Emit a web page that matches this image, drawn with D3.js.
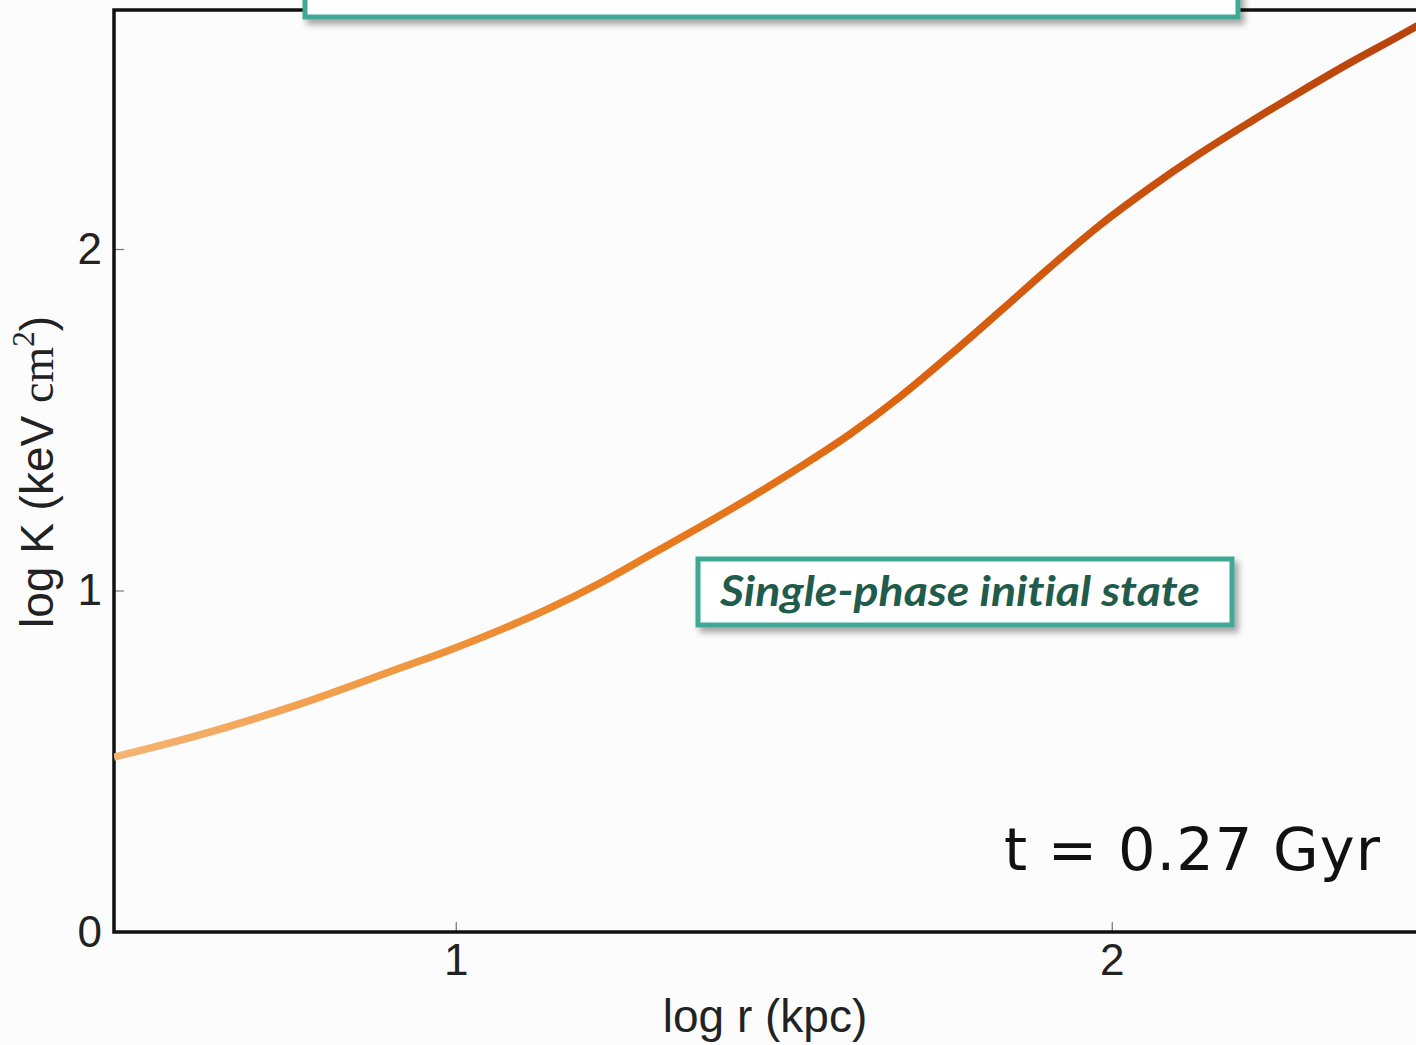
<!DOCTYPE html>
<html>
<head>
<meta charset="utf-8">
<script src="https://cdn.jsdelivr.net/npm/d3@7"></script>
<style>
  html, body { margin: 0; padding: 0; background: #fcfcfc; }
  svg { display: block; }
</style>
</head>
<body>
<svg id="chart" width="1416" height="1045"></svg>
<script>
// ---- data ----
const logR = [0.479, 0.610, 0.763, 0.915, 0.991, 1.067, 1.144, 1.220, 1.296, 1.372, 1.448, 1.525, 1.601, 1.677, 1.753, 1.830, 1.906, 1.982, 2.058, 2.134, 2.211, 2.287, 2.363, 2.440, 2.500];
const logK = [0.512, 0.577, 0.668, 0.773, 0.826, 0.884, 0.949, 1.022, 1.104, 1.186, 1.271, 1.362, 1.458, 1.567, 1.689, 1.818, 1.947, 2.070, 2.179, 2.279, 2.372, 2.460, 2.545, 2.626, 2.691];
const xTicks = [1, 2];
const yTicks = [0, 1, 2];
const xLabel = "log r (kpc)";
const timeLabel = "t = 0.27 Gyr";
const annotation = "Single-phase initial state";

(function () {
const svg = d3.select("#chart");
const W = 1416, H = 1045;
const mLeft = 114, mBottom = 932, mTop = 10;

const x = d3.scaleLinear().domain([0.479, 2.5]).range([mLeft, mLeft + (2.5 - 0.479) * 656]);
const y = d3.scaleLinear().domain([0, 2.7]).range([mBottom, mBottom - 2.7 * 341.5]);

const defs = svg.append("defs");
const grad = defs.append("linearGradient").attr("id", "lineGrad")
  .attr("gradientUnits", "userSpaceOnUse")
  .attr("x1", x(0.479)).attr("x2", x(2.464)).attr("y1", 0).attr("y2", 0);
[[0, "#f5b473"], [0.2, "#f19a45"], [0.4, "#ea7d20"], [0.6, "#dc6410"], [0.8, "#c9500c"], [1, "#b8430b"]]
  .forEach(([o, c]) => grad.append("stop").attr("offset", o).attr("stop-color", c));

const shadow = defs.append("filter").attr("id", "shadow")
  .attr("x", "-10%").attr("y", "-30%").attr("width", "130%").attr("height", "180%");
shadow.append("feDropShadow").attr("dx", 4).attr("dy", 5).attr("stdDeviation", 3)
  .attr("flood-color", "#000").attr("flood-opacity", 0.35);

defs.append("clipPath").attr("id", "plotClip").append("rect")
  .attr("x", mLeft).attr("y", mTop).attr("width", W - mLeft).attr("height", mBottom - mTop);

// ticks (inward, thin)
const gx = svg.append("g").attr("transform", `translate(0,${mBottom})`)
  .call(d3.axisBottom(x).tickValues(xTicks).tickSize(-10).tickPadding(14).tickFormat(d3.format("d")));
gx.select(".domain").remove();
gx.selectAll(".tick line").attr("stroke", "#777").attr("stroke-width", 1.2);
gx.selectAll(".tick text").attr("font-family", "Liberation Sans, Arial, sans-serif")
  .attr("font-size", 44).attr("fill", "#222").attr("dy", "0.71em").attr("y", 12);

const gy = svg.append("g").attr("transform", `translate(${mLeft},0)`)
  .call(d3.axisLeft(y).tickValues(yTicks).tickSize(-10).tickPadding(14).tickFormat(d3.format("d")));
gy.select(".domain").remove();
gy.selectAll(".tick line").attr("stroke", "#777").attr("stroke-width", 1.2);
gy.selectAll(".tick text").attr("font-family", "Liberation Sans, Arial, sans-serif")
  .attr("font-size", 44).attr("fill", "#222").attr("x", -12);

// frame
svg.append("path")
  .attr("d", `M${W + 10},${mTop} H${mLeft} V${mBottom} H${W + 10}`)
  .attr("fill", "none").attr("stroke", "#111").attr("stroke-width", 3.5);

// curve
const line = d3.line().x((d, i) => x(logR[i])).y((d, i) => y(logK[i])).curve(d3.curveMonotoneX);
svg.append("path")
  .datum(logK)
  .attr("clip-path", "url(#plotClip)")
  .attr("d", line)
  .attr("fill", "none")
  .attr("stroke", "url(#lineGrad)")
  .attr("stroke-width", 7.5)
  .attr("stroke-linecap", "butt");

// top (cut off) teal box
svg.append("rect")
  .attr("x", 305).attr("y", -60).attr("width", 933).attr("height", 77)
  .attr("fill", "#ffffff").attr("stroke", "#3fa996").attr("stroke-width", 5)
  .attr("filter", "url(#shadow)");

// annotation box
svg.append("rect")
  .attr("x", 698).attr("y", 559).attr("width", 534).attr("height", 66)
  .attr("fill", "#ffffff").attr("stroke", "#3fa996").attr("stroke-width", 5)
  .attr("filter", "url(#shadow)");
svg.append("text")
  .attr("x", 720).attr("y", 606)
  .attr("font-family", "Lato, 'Open Sans', sans-serif")
  .attr("font-style", "italic").attr("font-weight", 700)
  .attr("font-size", 42).attr("fill", "#1f5c4c")
  .style("font-variant-ligatures", "none")
  .attr("textLength", 480).attr("lengthAdjust", "spacingAndGlyphs")
  .text(annotation);

// time label
svg.append("text")
  .attr("x", 1004).attr("y", 870)
  .attr("font-family", "DejaVu Sans, sans-serif")
  .attr("font-size", 59).attr("fill", "#111")
  .attr("textLength", 376).attr("lengthAdjust", "spacing")
  .text(timeLabel);

// x axis label
svg.append("text")
  .attr("x", 765).attr("y", 1032).attr("text-anchor", "middle")
  .attr("font-family", "Liberation Sans, Arial, sans-serif")
  .attr("font-size", 46).attr("fill", "#222")
  .text(xLabel);

// y axis label (rotated, mixed sans/serif)
const yl = svg.append("text")
  .attr("transform", `translate(53,472) rotate(-90)`)
  .attr("text-anchor", "middle")
  .attr("font-size", 46).attr("fill", "#222");
yl.append("tspan").attr("font-family", "Liberation Sans, Arial, sans-serif").text("log K (keV ");
yl.append("tspan").attr("font-family", "Liberation Serif, 'DejaVu Serif', serif").text("cm");
yl.append("tspan").attr("font-family", "Liberation Serif, 'DejaVu Serif', serif")
  .attr("font-size", 31).attr("dy", -19).text("2");
yl.append("tspan").attr("font-family", "Liberation Sans, Arial, sans-serif").attr("dy", 19).text(")");
})();
</script>
</body>
</html>
